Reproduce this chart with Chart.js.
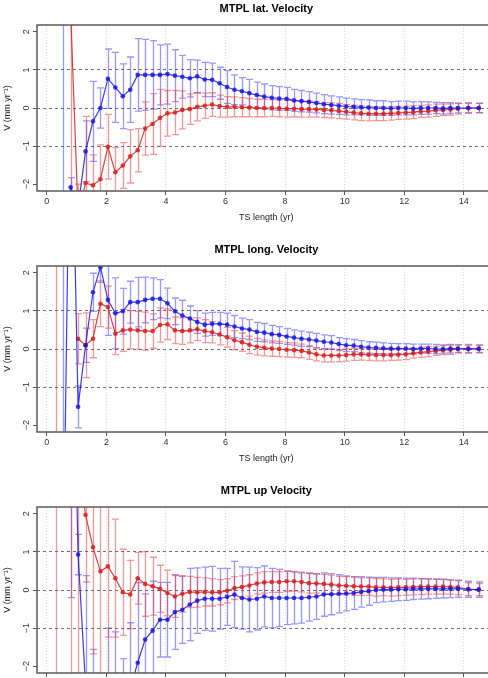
<!DOCTYPE html>
<html><head><meta charset="utf-8">
<script src="https://cdn.jsdelivr.net/npm/chart.js@4/dist/chart.umd.min.js"></script>
<style>
html,body{margin:0;padding:0;background:#fff;overflow:hidden;width:488px;height:678px;position:relative}
.p{position:absolute;left:0;width:498px;height:241px}
canvas{display:block}
</style></head><body>
<div class="p" style="top:0"><canvas id="c1" width="498" height="241"></canvas></div>
<div class="p" style="top:241px"><canvas id="c2" width="498" height="241"></canvas></div>
<div class="p" style="top:482px"><canvas id="c3" width="498" height="241"></canvas></div>
<script>
// ---- data ----
const tsLength = [0.30,0.55,0.80,1.05,1.30,1.55,1.80,2.05,2.30,2.55,
  2.80,3.05,3.30,3.55,3.80,4.05,4.30,4.55,4.80,5.05,
  5.30,5.55,5.80,6.05,6.30,6.55,6.80,7.05,7.30,7.55,
  7.80,8.05,8.30,8.55,8.80,9.05,9.30,9.55,9.80,10.05,
  10.30,10.55,10.80,11.05,11.30,11.55,11.80,12.05,12.30,12.55,
  12.80,13.05,13.30,13.55,13.80,14.15,14.50];
const xTicks = [0,2,4,6,8,10,12,14];
const yTicks = [-2,-1,0,1,2];

const latBlue = [null,-6,-2.08,-2.6,-1.14,-0.35,0.00,0.77,0.54,0.31,
  0.48,0.87,0.87,0.87,0.87,0.89,0.85,0.82,0.78,0.83,
  0.75,0.74,0.65,0.55,0.48,0.44,0.39,0.34,0.30,0.27,
  0.25,0.24,0.20,0.18,0.16,0.13,0.10,0.08,0.06,0.04,
  0.03,0.02,0.01,0.00,0.00,-0.01,0.00,0.00,-0.01,0.00,
  0.00,0.00,-0.01,0.00,0.00,0.00,0.00];
const latBlueErr = [null,12,0.25,0.3,0.8,1.05,0.53,0.78,0.92,0.85,
  0.86,0.95,0.93,0.9,0.79,0.79,0.68,0.56,0.49,0.43,
  0.45,0.44,0.42,0.43,0.39,0.36,0.36,0.34,0.33,0.32,
  0.31,0.30,0.29,0.28,0.27,0.26,0.25,0.24,0.23,0.22,
  0.21,0.2,0.2,0.19,0.19,0.18,0.18,0.18,0.17,0.17,
  0.16,0.15,0.15,0.14,0.13,0.12,0.12];
const latRed = [null,null,2.5,-2.8,-1.97,-2.03,-1.87,-1.02,-1.69,-1.51,
  -1.27,-1.11,-0.54,-0.42,-0.26,-0.14,-0.12,-0.05,-0.03,0.03,
  0.06,0.09,0.05,0.03,0.03,0.02,0.01,0.00,0.00,0.00,
  -0.01,-0.02,-0.02,-0.03,-0.03,-0.04,-0.05,-0.06,-0.08,-0.10,
  -0.12,-0.14,-0.15,-0.15,-0.15,-0.14,-0.13,-0.12,-0.11,-0.09,
  -0.08,-0.06,-0.05,-0.04,-0.02,0.00,0.00];
const latRedErr = [null,null,9,0.8,1.75,0.8,0.9,0.85,0.65,0.6,
  0.7,0.57,0.7,0.8,0.75,0.6,0.58,0.5,0.4,0.37,
  0.33,0.31,0.29,0.27,0.26,0.25,0.24,0.23,0.23,0.22,
  0.22,0.22,0.21,0.21,0.21,0.2,0.2,0.2,0.2,0.19,
  0.19,0.19,0.19,0.18,0.18,0.18,0.17,0.17,0.17,0.16,
  0.16,0.16,0.15,0.15,0.14,0.14,0.13];

const longBlue = [null,-6,8,-1.52,0.10,1.49,2.15,1.29,0.94,0.99,
  1.23,1.23,1.29,1.32,1.32,1.20,0.99,0.88,0.80,0.71,
  0.64,0.66,0.66,0.64,0.59,0.54,0.51,0.45,0.43,0.39,
  0.37,0.33,0.30,0.27,0.25,0.22,0.19,0.17,0.13,0.10,
  0.09,0.06,0.04,0.03,0.02,0.01,0.01,0.01,0.00,0.01,
  0.01,0.00,0.00,0.01,0.01,0.00,0.00];
const longBlueErr = [null,12,3,0.55,0.45,0.5,0.4,0.93,0.93,0.6,
  0.55,0.65,0.6,0.55,0.5,0.4,0.35,0.4,0.33,0.3,
  0.3,0.3,0.3,0.3,0.29,0.27,0.26,0.25,0.24,0.23,
  0.22,0.21,0.2,0.2,0.19,0.19,0.18,0.18,0.17,0.17,
  0.16,0.16,0.15,0.15,0.14,0.14,0.13,0.13,0.13,0.12,
  0.12,0.12,0.11,0.11,0.1,0.1,0.1];
const longRed = [3,null,null,0.27,0.10,0.27,1.19,1.10,0.40,0.49,
  0.51,0.49,0.47,0.47,0.63,0.65,0.49,0.47,0.49,0.52,
  0.47,0.44,0.38,0.31,0.23,0.18,0.11,0.06,0.03,0.01,
  0.00,-0.02,-0.03,-0.05,-0.09,-0.14,-0.17,-0.17,-0.17,-0.16,
  -0.14,-0.14,-0.15,-0.16,-0.16,-0.16,-0.15,-0.14,-0.11,-0.09,
  -0.07,-0.05,-0.03,-0.02,0.00,0.01,0.01];
const longRedErr = [10,null,null,0.66,0.85,0.5,0.6,0.55,0.55,0.55,
  0.5,0.5,0.5,0.45,0.45,0.4,0.35,0.35,0.33,0.3,
  0.3,0.28,0.27,0.26,0.25,0.24,0.23,0.22,0.21,0.2,
  0.2,0.19,0.19,0.18,0.18,0.17,0.17,0.17,0.16,0.16,
  0.16,0.15,0.15,0.15,0.15,0.14,0.14,0.14,0.13,0.13,
  0.13,0.12,0.12,0.12,0.11,0.11,0.1];

const upBlue = [null,null,10,0.93,-2.5,-3.0,-3.5,-3.2,-3.0,-3.0,
  -2.6,-1.91,-1.30,-1.07,-0.78,-0.78,-0.58,-0.52,-0.38,-0.28,
  -0.23,-0.23,-0.23,-0.18,-0.12,-0.21,-0.25,-0.23,-0.17,-0.21,
  -0.21,-0.21,-0.21,-0.21,-0.19,-0.17,-0.12,-0.11,-0.10,-0.09,
  -0.08,-0.05,-0.03,0.00,0.01,0.01,0.02,0.02,0.03,0.03,
  0.03,0.03,0.03,0.03,0.03,0.02,0.01];
const upBlueErr = [null,null,10.2,0.53,2.88,1.44,1.2,2.2,1.9,1.2,
  1.74,2.1,1.2,1.3,0.98,0.98,0.98,0.88,0.95,0.86,
  0.83,0.85,0.8,0.75,0.87,0.82,0.85,0.82,0.8,0.78,
  0.75,0.7,0.68,0.66,0.63,0.6,0.57,0.54,0.5,0.46,
  0.43,0.4,0.37,0.33,0.32,0.31,0.3,0.29,0.28,0.27,
  0.26,0.25,0.24,0.23,0.22,0.21,0.2];
const upRed = [6,null,8,3.5,1.97,1.12,0.49,0.62,0.31,-0.06,
  -0.12,0.31,0.16,0.10,0.03,-0.08,-0.17,-0.10,-0.05,-0.06,
  -0.05,-0.06,-0.06,-0.02,0.05,0.08,0.12,0.17,0.20,0.21,
  0.21,0.23,0.23,0.21,0.18,0.17,0.16,0.14,0.12,0.11,
  0.10,0.09,0.09,0.07,0.07,0.06,0.07,0.07,0.08,0.09,
  0.09,0.09,0.09,0.08,0.07,0.02,0.01];
const upRedErr = [12,null,15,8,1.76,2.8,3.0,1.86,1.55,1.13,
  0.9,0.68,0.85,0.76,0.62,0.6,0.55,0.48,0.41,0.39,
  0.37,0.36,0.33,0.32,0.3,0.29,0.28,0.28,0.28,0.27,
  0.27,0.27,0.26,0.26,0.26,0.25,0.25,0.25,0.24,0.24,
  0.24,0.23,0.23,0.23,0.22,0.22,0.22,0.21,0.21,0.21,
  0.2,0.2,0.2,0.19,0.19,0.17,0.16];

// ---- drawing ----
const FONT = 'Liberation Sans, Arial, Helvetica, sans-serif';
const minus = v => v < 0 ? '\u2212' + Math.abs(v) : String(v);

const errorBars = {
  id: 'errorBars',
  beforeDatasetsDraw(chart) {
    const {ctx, chartArea: a, scales: {x, y}} = chart;
    ctx.save();
    ctx.beginPath(); ctx.rect(a.left, a.top, a.right - a.left, a.bottom - a.top); ctx.clip();
    chart.data.datasets.forEach(ds => {
      ctx.strokeStyle = ds.errorColor; ctx.lineWidth = 1.3;
      ds.data.forEach(p => {
        if (p.y == null || p.err == null) return;
        const px = Math.round(x.getPixelForValue(p.x)) + 0.5;
        const y1 = y.getPixelForValue(p.y + p.err), y2 = y.getPixelForValue(p.y - p.err);
        ctx.beginPath();
        ctx.moveTo(px, y1); ctx.lineTo(px, y2);
        ctx.moveTo(px - 3.5, y1); ctx.lineTo(px + 3.5, y1);
        ctx.moveTo(px - 3.5, y2); ctx.lineTo(px + 3.5, y2);
        ctx.stroke();
      });
    });
    ctx.restore();
  }
};
const frame = {
  id: 'frame',
  afterDatasetsDraw(chart) {
    const {ctx, chartArea: a} = chart;
    ctx.save(); ctx.strokeStyle = '#5a5a5a'; ctx.lineWidth = 1.5;
    ctx.strokeRect(a.left, a.top, a.right - a.left, a.bottom - a.top);
    ctx.restore();
  }
};

function series(xs, vals, errs) {
  return vals.map((v, i) => ({x: xs[i], y: v, err: errs[i]}));
}

function makeChart(id, title, blue, blueErr, red, redErr) {
  return new Chart(document.getElementById(id), {
    type: 'line',
    data: {
      datasets: [
        {data: series(tsLength, blue, blueErr), borderColor: 'rgba(25,25,230,0.85)', backgroundColor: 'rgba(25,25,230,0.85)',
         borderWidth: 1.2, pointRadius: 2.3, pointBorderWidth: 0, pointHoverRadius: 0, errorColor: 'rgba(50,50,255,0.5)', spanGaps: false},
        {data: series(tsLength, red, redErr), borderColor: 'rgba(220,30,30,0.85)', backgroundColor: 'rgba(220,30,30,0.85)',
         borderWidth: 1.2, pointRadius: 2.3, pointBorderWidth: 0, pointHoverRadius: 0, errorColor: 'rgba(240,50,50,0.5)', spanGaps: false}
      ]
    },
    options: {
      responsive: false, animation: false, events: [],
      layout: {padding: {top: 0, right: 0, left: 0, bottom: 0}},
      plugins: {
        legend: {display: false}, tooltip: {enabled: false},
        title: {display: true, text: title, fullSize: false, color: '#000',
                font: {family: FONT, size: 11, weight: 'bold'}, padding: {top: 2.4, bottom: 9.4}}
      },
      scales: {
        x: {
          type: 'linear', min: -0.33, max: 15.07,
          afterBuildTicks: s => { s.ticks = xTicks.map(v => ({value: v})); },
          afterFit: s => { s.height = 50; },
          grid: {color: '#d6d6d6', lineWidth: 1, drawTicks: true, tickLength: 4, tickColor: '#555', tickWidth: 1, tickBorderDash: []},
          border: {display: false, dash: [1, 2]},
          ticks: {color: '#333', font: {family: FONT, size: 9}, padding: 1.5, maxRotation: 0, minRotation: 0},
          title: {display: true, text: 'TS length (yr)', color: '#222', font: {family: FONT, size: 9}, padding: {top: 0, bottom: 17.6}}
        },
        y: {
          min: -2.18, max: 2.18,
          afterBuildTicks: s => { s.ticks = yTicks.map(v => ({value: v})); },
          afterFit: s => { s.width = 37; },
          grid: {color: c => (c.tick && [-1, 0, 1].includes(c.tick.value)) ? '#707070' : 'rgba(0,0,0,0)',
                 lineWidth: 1, drawTicks: true, tickLength: 4, tickColor: '#555', tickWidth: 1, tickBorderDash: []},
          border: {display: false, dash: [3, 3]},
          ticks: {color: '#333', font: {family: FONT, size: 9}, padding: 1.5, minRotation: 90, maxRotation: 90,
                  crossAlign: 'center', callback: v => minus(v)},
          title: {display: true, text: 'V (mm yr\u207B\u00B9)', color: '#222', font: {family: FONT, size: 9}, padding: {top: 2.6, bottom: 0}}
        }
      }
    },
    plugins: [errorBars, frame]
  });
}

makeChart('c1', 'MTPL lat. Velocity', latBlue, latBlueErr, latRed, latRedErr);
makeChart('c2', 'MTPL long. Velocity', longBlue, longBlueErr, longRed, longRedErr);
makeChart('c3', 'MTPL up Velocity', upBlue, upBlueErr, upRed, upRedErr);
</script>
</body></html>
